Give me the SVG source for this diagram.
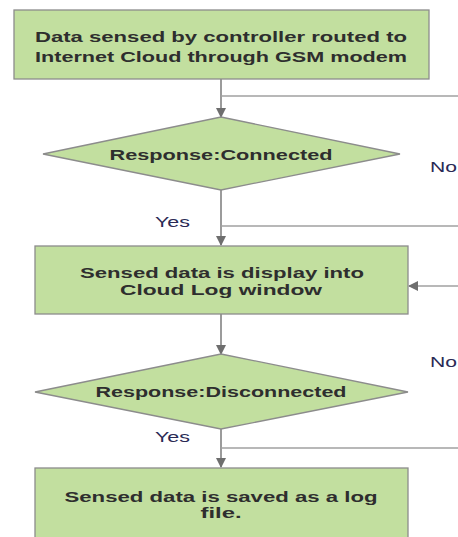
<svg xmlns="http://www.w3.org/2000/svg" width="458" height="537" viewBox="0 0 458 537">
<style>
.node{fill:#c2df9f;stroke:#8c8c8c;stroke-width:1.3}
.t{font-family:"Liberation Sans",Arial,sans-serif;font-weight:bold;font-size:15px;fill:#2e2e2e;text-anchor:middle}
.lbl{font-family:"Liberation Sans",Arial,sans-serif;font-size:15px;fill:#2a2a55}
.c{fill:none;stroke:#7a7a7a;stroke-width:1.5}
.h{fill:none;stroke:#a0a0a0;stroke-width:1.3}
</style>
<defs>
<marker id="arr" viewBox="0 0 10 10" refX="9" refY="5" markerWidth="10" markerHeight="10" markerUnits="userSpaceOnUse" orient="auto">
<path d="M0,0 L10,5 L0,10 z" fill="#6e6e6e"/>
</marker>
</defs>
<rect width="458" height="537" fill="#ffffff"/>
<g id="connectors">
<line class="c" x1="221" y1="79" x2="221" y2="117" marker-end="url(#arr)"/>
<line class="h" x1="221" y1="96" x2="458" y2="96"/>
<line class="c" x1="221" y1="190" x2="221" y2="245" marker-end="url(#arr)"/>
<line class="h" x1="221" y1="226" x2="458" y2="226"/>
<line class="h" x1="458" y1="286" x2="409" y2="286" marker-end="url(#arr)"/>
<line class="c" x1="221" y1="314" x2="221" y2="354" marker-end="url(#arr)"/>
<line class="c" x1="221" y1="429" x2="221" y2="467" marker-end="url(#arr)"/>
<line class="h" x1="221" y1="448" x2="458" y2="448"/>
<text class="lbl" x="430" y="172" textLength="27" lengthAdjust="spacingAndGlyphs">No</text>
<text class="lbl" x="155" y="227" textLength="35" lengthAdjust="spacingAndGlyphs">Yes</text>
<text class="lbl" x="430" y="367" textLength="27" lengthAdjust="spacingAndGlyphs">No</text>
<text class="lbl" x="155" y="442" textLength="35" lengthAdjust="spacingAndGlyphs">Yes</text>
</g>
<g id="n1">
<rect class="node" x="14" y="10" width="415" height="69"/>
<text class="t" x="221" y="42" textLength="372" lengthAdjust="spacingAndGlyphs">Data sensed by controller routed to</text>
<text class="t" x="221" y="62" textLength="372" lengthAdjust="spacingAndGlyphs">Internet Cloud through GSM modem</text>
</g>
<g id="n2">
<polygon class="node" points="221,117 400,154 221,190 43,154"/>
<text class="t" x="221" y="160" textLength="223" lengthAdjust="spacingAndGlyphs">Response:Connected</text>
</g>
<g id="n3">
<rect class="node" x="35" y="246" width="373" height="68"/>
<text class="t" x="222" y="278" textLength="284" lengthAdjust="spacingAndGlyphs">Sensed data is display into</text>
<text class="t" x="221" y="295" textLength="202" lengthAdjust="spacingAndGlyphs">Cloud Log window</text>
</g>
<g id="n4">
<polygon class="node" points="221,354 408,392 221,429 35,392"/>
<text class="t" x="221" y="397" textLength="251" lengthAdjust="spacingAndGlyphs">Response:Disconnected</text>
</g>
<g id="n5">
<rect class="node" x="35" y="468" width="373" height="80"/>
<text class="t" x="221" y="502" textLength="313" lengthAdjust="spacingAndGlyphs">Sensed data is saved as a log</text>
<text class="t" x="221" y="518" textLength="41" lengthAdjust="spacingAndGlyphs">file.</text>
</g>
</svg>
